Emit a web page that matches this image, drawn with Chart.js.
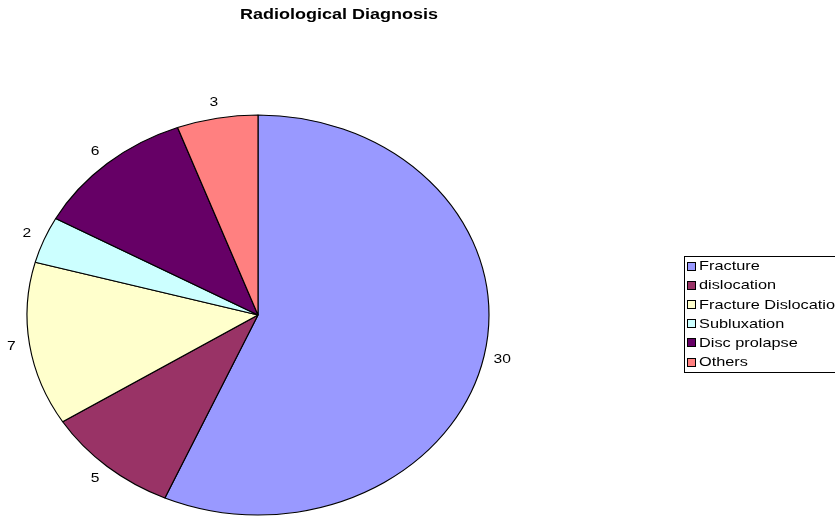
<!DOCTYPE html>
<html>
<head>
<meta charset="utf-8">
<script src="https://cdn.jsdelivr.net/npm/chart.js@4.4.1/dist/chart.umd.min.js"></script>
<style>
  html, body { margin: 0; padding: 0; background: #fff; }
  #wrap { width: 835px; height: 516px; position: relative; }
</style>
</head>
<body>
<div id="wrap"><canvas id="pie"></canvas></div>
<script>
// ==============================
// Data
// ==============================
const chartTitle = "Radiological Diagnosis";
const categories = ["Fracture", "dislocation", "Fracture Dislocation", "Subluxation", "Disc prolapse", "Others"];
const counts = [30, 5, 7, 2, 6, 3];
const sliceColors = ["#9999FF", "#993366", "#FFFFCC", "#CCFFFF", "#660066", "#FF8080"];

// picture is stretched sideways a bit, pie and text both
const PIE_SX = 1.155;
const TEXT_SX = 1.2;
const FONT = '"Liberation Sans", Arial, sans-serif';

function stretchedText(ctx, text, x, y, font, align) {
  ctx.save();
  ctx.translate(x, y);
  ctx.scale(TEXT_SX, 1);
  ctx.font = font;
  ctx.fillStyle = "#000";
  ctx.textAlign = align;
  ctx.textBaseline = "middle";
  ctx.fillText(text, 0, 0);
  ctx.restore();
}

// ==============================
// Ellipse + labels + legend plugin
// ==============================
const excelLook = {
  id: "excelLook",
  beforeDatasetsDraw(chart) {
    const arc = chart.getDatasetMeta(0).data[0];
    const ctx = chart.ctx;
    ctx.save();
    ctx.translate(arc.x, arc.y);
    ctx.scale(PIE_SX, 1);
    ctx.translate(-arc.x, -arc.y);
  },
  afterDatasetsDraw(chart) {
    chart.ctx.restore();
  },
  afterDraw(chart) {
    const ctx = chart.ctx;
    const arcs = chart.getDatasetMeta(0).data;

    // title
    stretchedText(ctx, chartTitle, 339, 15, "bold 15px " + FONT, "center");

    // value labels outside the slices
    arcs.forEach((a, i) => {
      const mid = (a.startAngle + a.endAngle) / 2;
      const r = a.outerRadius + 16;
      const x = a.x + Math.cos(mid) * r * PIE_SX;
      const y = a.y + Math.sin(mid) * r;
      stretchedText(ctx, String(counts[i]), x, y, "13px " + FONT, "center");
    });

    // legend with a border box
    ctx.save();
    ctx.strokeStyle = "#000";
    ctx.lineWidth = 1;
    ctx.strokeRect(684.5, 256.5, 170, 116);
    categories.forEach((name, i) => {
      const y = 266.5 + i * 19.2;
      ctx.fillStyle = sliceColors[i];
      ctx.fillRect(687.5, Math.round(y) - 4.5, 8, 8);
      ctx.strokeRect(687.5, Math.round(y) - 4.5, 8, 8);
      stretchedText(ctx, name, 699, y, "13.6px " + FONT, "left");
    });
    ctx.restore();
  }
};

// ==============================
// Chart
// ==============================
new Chart(document.getElementById("pie"), {
  type: "pie",
  data: {
    labels: categories,
    datasets: [{
      data: counts,
      backgroundColor: sliceColors,
      borderColor: "#000",
      borderWidth: 1,
      hoverOffset: 0
    }]
  },
  options: {
    responsive: true,
    maintainAspectRatio: false,
    animation: false,
    radius: 200,
    layout: { padding: { left: 58, right: 377, top: 115, bottom: 1 } },
    plugins: {
      legend: { display: false },
      title: { display: false },
      tooltip: { enabled: false }
    }
  },
  plugins: [excelLook]
});
</script>
</body>
</html>
